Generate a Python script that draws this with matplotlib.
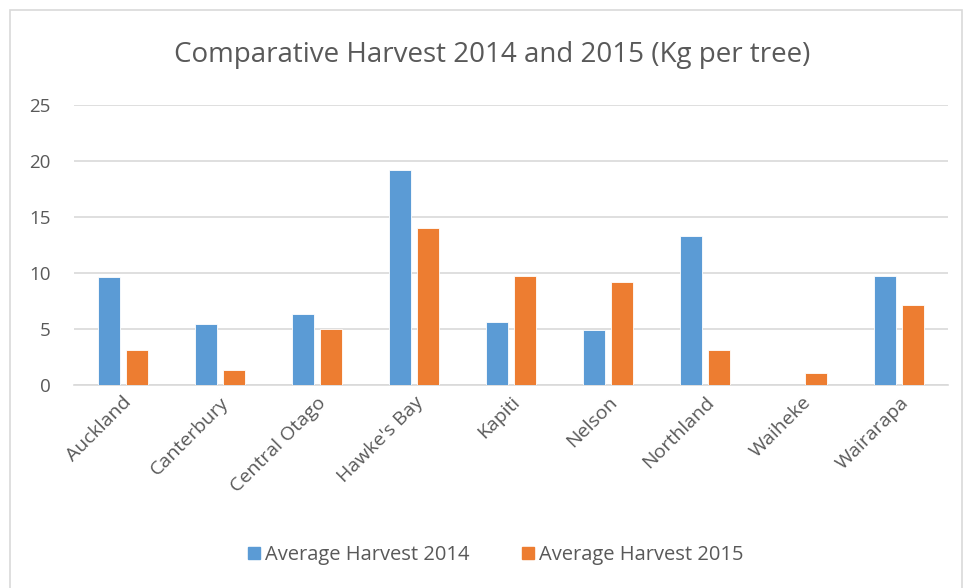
import matplotlib
matplotlib.use("Agg")
import matplotlib.pyplot as plt
from matplotlib.patches import Rectangle, Patch
import numpy as np

categories = ["Auckland", "Canterbury", "Central Otago", "Hawke's Bay", "Kapiti",
              "Nelson", "Northland", "Waiheke", "Wairarapa"]
harvest_2014 = [9.6, 5.4, 6.35, 19.2, 5.6, 4.9, 13.25, 0.0, 9.7]
harvest_2015 = [3.15, 1.35, 5.0, 14.0, 9.7, 9.2, 3.15, 1.05, 7.15]
series_names = ["Average Harvest 2014", "Average Harvest 2015"]
yticks = [0, 5, 10, 15, 20, 25]

plt.rcParams['font.family'] = ['Open Sans', 'DejaVu Sans']
TXT = "#595959"
BLUE = "#5B9BD5"
ORANGE = "#ED7D31"

fig = plt.figure(figsize=(9.65, 5.88), dpi=100)
W, H = 965, 588
ax = fig.add_axes([74 / W, 1 - 385 / H, (948 - 74) / W, (385 - 104.7) / H])

x = np.arange(len(categories))
bw = 0.226
off = 0.144
ax.bar(x - off, harvest_2014, width=bw, color=BLUE, edgecolor="white", linewidth=0.6, zorder=3)
ax.bar(x + off, harvest_2015, width=bw, color=ORANGE, edgecolor="white", linewidth=0.6, zorder=3)

ax.set_xlim(-0.5, len(categories) - 0.5)
ax.set_ylim(0, 25)
ax.set_yticks(yticks)
ax.set_yticklabels([str(t) for t in yticks], fontsize=13.5, color=TXT)
ax.yaxis.grid(True, color="#D9D9D9", linewidth=1.2, zorder=0)
ax.set_axisbelow(True)
for s in ["top", "right", "left"]:
    ax.spines[s].set_visible(False)
ax.spines["bottom"].set_color("#D9D9D9")
ax.spines["bottom"].set_linewidth(1.2)
ax.yaxis.set_tick_params(length=0, pad=17)
ax.xaxis.set_tick_params(length=0, pad=6)
ax.set_xticks(x)
ax.set_xticklabels(categories, rotation=45, ha="right", rotation_mode="anchor",
                   fontsize=14, color=TXT)

fig.text(492 / W, 1 - 55 / H, "Comparative Harvest 2014 and 2015 (Kg per tree)",
         ha="center", va="center", fontsize=20, color=TXT)

handles = [Patch(color=BLUE), Patch(color=ORANGE)]
fig.legend(handles, series_names, loc="center", bbox_to_anchor=(496 / W, 1 - 555 / H),
           ncol=2, frameon=False, fontsize=14.5, labelcolor=TXT,
           handlelength=0.6, handleheight=0.6, handletextpad=0.25, columnspacing=2.6)

fig.patches.append(Rectangle((10 / W, -0.01), (962 - 10) / W, 1 - 10 / H + 0.01,
                             transform=fig.transFigure, fill=False,
                             edgecolor="#D9D9D9", linewidth=1.2))

fig.savefig("out.png", dpi=100)
